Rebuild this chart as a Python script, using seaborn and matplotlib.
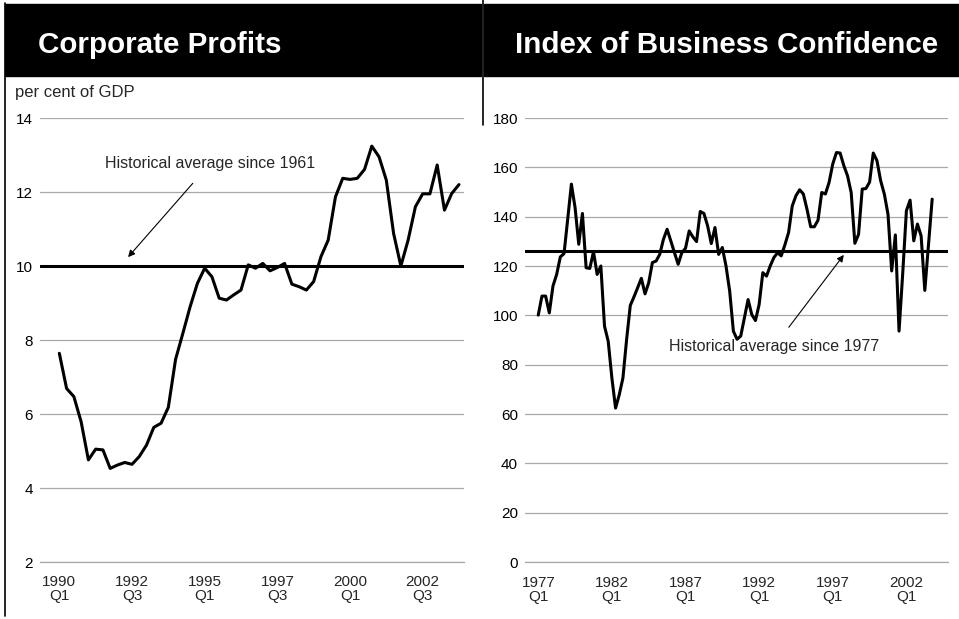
import matplotlib
matplotlib.use("Agg")
import matplotlib.pyplot as plt
import seaborn as sns
import pandas as pd
from matplotlib.lines import Line2D
from matplotlib.patches import Rectangle

# Corporate profits, per cent of GDP, quarterly 1990Q1 - 2003Q4
profit_values = [
    7.64, 6.69, 6.47, 5.79, 4.76, 5.05, 5.03, 4.53, 4.62, 4.69,
    4.64, 4.85, 5.16, 5.64, 5.75, 6.18, 7.48, 8.18, 8.90, 9.53,
    9.94, 9.71, 9.13, 9.08, 9.22, 9.35, 10.03, 9.94, 10.07, 9.87,
    9.96, 10.07, 9.51, 9.44, 9.35, 9.58, 10.25, 10.70, 11.87, 12.37,
    12.34, 12.37, 12.61, 13.24, 12.95, 12.32, 10.88, 10.00, 10.70, 11.60,
    11.95, 11.95, 12.73, 11.51, 11.96, 12.20,
]
profit_tick_labels = ["1990\nQ1", "1992\nQ3", "1995\nQ1", "1997\nQ3", "2000\nQ1", "2002\nQ3"]
profit_avg = 10

# Index of business confidence, quarterly 1977Q1 - 2003Q4
confidence_values = [
    100.1, 107.8, 107.8, 101.0, 111.9, 116.6, 123.7, 125.0, 139.0, 153.2,
    143.7, 128.8, 141.3, 119.3, 119.0, 125.8, 116.6, 120.0, 95.6, 89.5,
    74.6, 62.4, 67.8, 74.6, 90.2, 104.0, 107.5, 111.2, 115.0, 108.7,
    113.2, 121.4, 122.0, 124.7, 130.8, 134.9, 130.2, 125.4, 120.7, 125.4,
    127.2, 134.2, 131.8, 129.9, 142.1, 141.3, 136.3, 129.1, 135.6, 124.7,
    127.5, 120.0, 109.8, 93.6, 90.3, 91.6, 99.0, 106.4, 100.3, 97.9,
    104.4, 117.3, 115.9, 120.0, 123.4, 125.4, 124.1, 128.6, 133.6, 144.4,
    148.5, 150.9, 149.2, 143.0, 135.9, 135.9, 138.6, 149.8, 149.2, 153.9,
    161.4, 166.0, 165.8, 160.7, 156.6, 149.8, 129.2, 132.8, 151.2, 151.4,
    154.0, 165.8, 162.7, 154.6, 149.2, 141.0, 118.0, 132.6, 93.6, 117.0,
    142.4, 146.7, 130.2, 137.0, 132.2, 110.1, 128.6, 147.1,
]
confidence_tick_labels = ["1977\nQ1", "1982\nQ1", "1987\nQ1", "1992\nQ1", "1997\nQ1", "2002\nQ1"]
confidence_avg = 126

profits = pd.DataFrame({"q": range(len(profit_values)), "value": profit_values})
confidence = pd.DataFrame({"q": range(len(confidence_values)), "value": confidence_values})

sns.set_style("white")
plt.rcParams["font.family"] = ["Liberation Sans", "DejaVu Sans"]

W, H = 959, 619
fig = plt.figure(figsize=(W / 100, H / 100), dpi=100)

grid_col = "#a8a8a8"


def px_box(x0, y0, x1, y1):
    # pixel box (top-left origin) -> figure fraction rect
    return [x0 / W, 1 - y1 / H, (x1 - x0) / W, (y1 - y0) / H]


def style_axis(ax):
    for side in ["top", "right", "left"]:
        ax.spines[side].set_visible(False)
    ax.spines["bottom"].set_color(grid_col)
    ax.spines["bottom"].set_linewidth(0.9)
    ax.grid(axis="y", color=grid_col, linewidth=0.9)
    ax.grid(axis="x", visible=False)
    ax.set_axisbelow(True)
    ax.tick_params(axis="y", length=0, pad=5, labelsize=11, colors="black")
    ax.set_xlabel("")
    ax.set_ylabel("")


# headers
fig.patches.append(Rectangle((5 / W, 1 - 76 / H), 476 / W, 72 / H,
                             transform=fig.transFigure, color="black"))
fig.patches.append(Rectangle((484 / W, 1 - 76 / H), 475 / W, 72 / H,
                             transform=fig.transFigure, color="black"))
fig.lines.append(Line2D([4.5 / W, 4.5 / W], [1 - 3 / H, 1 - 616 / H],
                        transform=fig.transFigure, color="black", lw=1.2))
fig.lines.append(Line2D([482.5 / W, 482.5 / W], [1, 1 - 125 / H],
                        transform=fig.transFigure, color="black", lw=1.2))
fig.text(38 / W, 1 - 53 / H, "Corporate Profits", color="white", fontsize=21.3,
         fontweight="bold", va="baseline", ha="left")
fig.text(515 / W, 1 - 53 / H, "Index of Business Confidence", color="white", fontsize=21.3,
         fontweight="bold", va="baseline", ha="left")
fig.text(15 / W, 1 - 97 / H, "per cent of GDP", fontsize=12, va="baseline", ha="left")

# left panel: corporate profits
ax1 = fig.add_axes(px_box(40, 118, 464, 562))
ax1.axhline(profit_avg, color="black", lw=2.2, zorder=2)
sns.lineplot(data=profits, x="q", y="value", ax=ax1, color="black", lw=2.2, zorder=3)
ax1.set_xlim(-2.66, 55.69)
ax1.set_ylim(2, 14)
ax1.set_yticks(range(2, 15, 2))
style_axis(ax1)
ax1.set_xticks(range(0, 60, 10))
ax1.set_xticklabels(profit_tick_labels, fontsize=11, linespacing=1.05)
ax1.tick_params(axis="x", direction="out", length=5, width=0.9, color=grid_col, pad=4)
ax1.annotate("Historical average since 1961", xy=(9.46, 10.24), xytext=(20.8, 12.78),
             fontsize=11.5, ha="center", va="center",
             arrowprops=dict(arrowstyle="-|>", color="black", lw=0.8,
                             mutation_scale=10, shrinkA=9, shrinkB=0))

# right panel: business confidence
ax2 = fig.add_axes(px_box(525, 118, 948, 562))
ax2.axhline(confidence_avg, color="black", lw=2.2, zorder=2)
sns.lineplot(data=confidence, x="q", y="value", ax=ax2, color="black", lw=2.2, zorder=3)
ax2.set_xlim(-3.6, 111.3)
ax2.set_ylim(0, 180)
ax2.set_yticks(range(0, 181, 20))
style_axis(ax2)
ax2.set_xticks(range(0, 101, 20))
ax2.set_xticklabels(confidence_tick_labels, fontsize=11, linespacing=1.05)
ax2.set_xticks(range(0, 105, 8), minor=True)
ax2.tick_params(axis="x", which="major", length=0, pad=10)
ax2.tick_params(axis="x", which="minor", direction="out", length=5, width=0.9, color=grid_col)
ax2.annotate("Historical average since 1977", xy=(83.0, 124.5), xytext=(64.0, 87.2),
             fontsize=11.5, ha="center", va="center",
             arrowprops=dict(arrowstyle="-|>", color="black", lw=0.8,
                             mutation_scale=10, shrinkA=8, shrinkB=0))

fig.savefig("out.png", dpi=100)
